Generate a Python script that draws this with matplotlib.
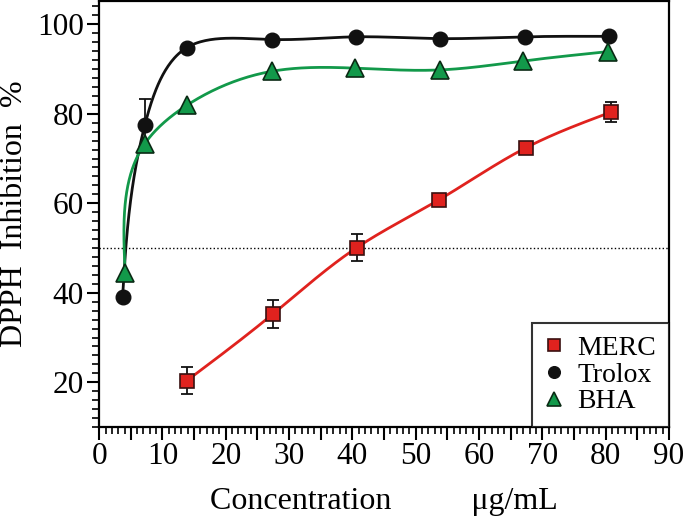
import matplotlib
matplotlib.use('Agg')
import matplotlib.pyplot as plt
from matplotlib.ticker import MultipleLocator, FuncFormatter
import numpy as np

# data
merc_x = [13.8, 27.4, 40.7, 53.7, 67.4, 80.9]
merc_y = [20.3, 35.2, 50.1, 60.8, 72.4, 80.4]
merc_err = [3.0, 3.1, 3.0, 1.0, 1.0, 2.2]

trolox_x = [3.7, 7.2, 13.85, 27.3, 40.5, 53.8, 67.2, 80.6]
trolox_y = [39.1, 77.4, 94.8, 96.6, 97.2, 96.8, 97.2, 97.3]
trolox_err = [0, 5.8, 0, 0, 0, 0, 0, 0]

bha_x = [4.1, 7.2, 13.85, 27.3, 40.4, 53.8, 67.0, 80.4]
bha_y = [44.4, 73.3, 81.9, 89.5, 90.2, 89.8, 91.8, 93.9]

red = '#e0221e'
green = '#12994a'
black = '#111111'

plt.rcParams['font.family'] = ['Liberation Serif', 'DejaVu Serif']


def natural_spline(t, v, ts):
    '''natural cubic spline of v(t) evaluated at ts'''
    t = np.asarray(t, float)
    v = np.asarray(v, float)
    n = len(t)
    h = np.diff(t)
    A = np.zeros((n, n))
    r = np.zeros(n)
    A[0, 0] = 1
    A[-1, -1] = 1
    for i in range(1, n - 1):
        A[i, i - 1] = h[i - 1]
        A[i, i] = 2 * (h[i - 1] + h[i])
        A[i, i + 1] = h[i]
        r[i] = 6 * ((v[i + 1] - v[i]) / h[i] - (v[i] - v[i - 1]) / h[i - 1])
    M = np.linalg.solve(A, r)
    k = np.clip(np.searchsorted(t, ts) - 1, 0, n - 2)
    a = t[k + 1] - ts
    b = ts - t[k]
    hk = h[k]
    return (M[k] * a**3 / (6 * hk) + M[k + 1] * b**3 / (6 * hk)
            + (v[k] / hk - M[k] * hk / 6) * a + (v[k + 1] / hk - M[k + 1] * hk / 6) * b)


def smooth(x, y):
    # parametric spline, chord length measured in axes units
    x = np.asarray(x, float)
    y = np.asarray(y, float)
    xn = x / 90.0 * 570
    yn = y / 95.0 * 426
    t = np.concatenate([[0], np.cumsum(np.hypot(np.diff(xn), np.diff(yn)))])
    ts = np.linspace(0, t[-1], 400)
    return natural_spline(t, x, ts), natural_spline(t, y, ts)


fig = plt.figure(figsize=(6.84, 5.16), dpi=100)
ax = fig.add_axes([0.145, 0.1725, 0.833, 0.8255])

ax.axhline(50, color='black', lw=1.0, ls=':', zorder=1)

sx, sy = smooth(merc_x, merc_y)
ax.plot(sx, sy, color=red, lw=2.0, zorder=2)
sx, sy = smooth(trolox_x, trolox_y)
ax.plot(sx, sy, color=black, lw=2.0, zorder=2)
sx, sy = smooth(bha_x, bha_y)
ax.plot(sx, sy, color=green, lw=2.0, zorder=2)

# error bars
ax.errorbar(merc_x, merc_y, yerr=merc_err, fmt='none', ecolor=black,
            elinewidth=1.3, capsize=4, capthick=1.3, zorder=3)
ax.errorbar(trolox_x, trolox_y, yerr=trolox_err, fmt='none', ecolor=black,
            elinewidth=1.3, capsize=4, capthick=1.3, zorder=3)

ax.plot(merc_x, merc_y, ls='none', marker='s', ms=10, mfc=red, mec='#3a1010',
        mew=1.2, label='MERC', zorder=4)
ax.plot(trolox_x, trolox_y, ls='none', marker='o', ms=10.5, mfc=black, mec=black,
        label='Trolox', zorder=4)
ax.plot(bha_x, bha_y, ls='none', marker='^', ms=13, mfc=green, mec='#0a2a14',
        mew=1.2, label='BHA', zorder=5)

ax.set_xlim(0, 90)
ax.set_ylim(10, 105.2)

ax.xaxis.set_major_locator(MultipleLocator(5))
ax.xaxis.set_minor_locator(MultipleLocator(1))
ax.xaxis.set_major_formatter(FuncFormatter(lambda v, p: '%d' % v if int(round(v)) % 10 == 0 else ''))
ax.yaxis.set_major_locator(MultipleLocator(20))
ax.yaxis.set_minor_locator(MultipleLocator(2))

ax.tick_params(which='major', direction='out', length=9, width=1.5, labelsize=22.5, pad=2)
ax.tick_params(which='minor', direction='out', length=5, width=1.2)
ax.tick_params(top=False, right=False)

for s in ax.spines.values():
    s.set_linewidth(1.6)

ax.set_ylabel('DPPH  Inhibition  %', fontsize=23, labelpad=6)
ax.set_xlabel('Concentration          \u03bcg/mL', fontsize=23, labelpad=11)

leg = ax.legend(loc='lower right', fontsize=20, frameon=True, fancybox=False,
                borderaxespad=0, handlelength=0.7, handletextpad=0.5,
                labelspacing=0.05, borderpad=0.45, markerscale=0.8, numpoints=1)
leg.get_frame().set_edgecolor('black')
leg.get_frame().set_linewidth(1.5)

fig.savefig('out.png', dpi=100)
